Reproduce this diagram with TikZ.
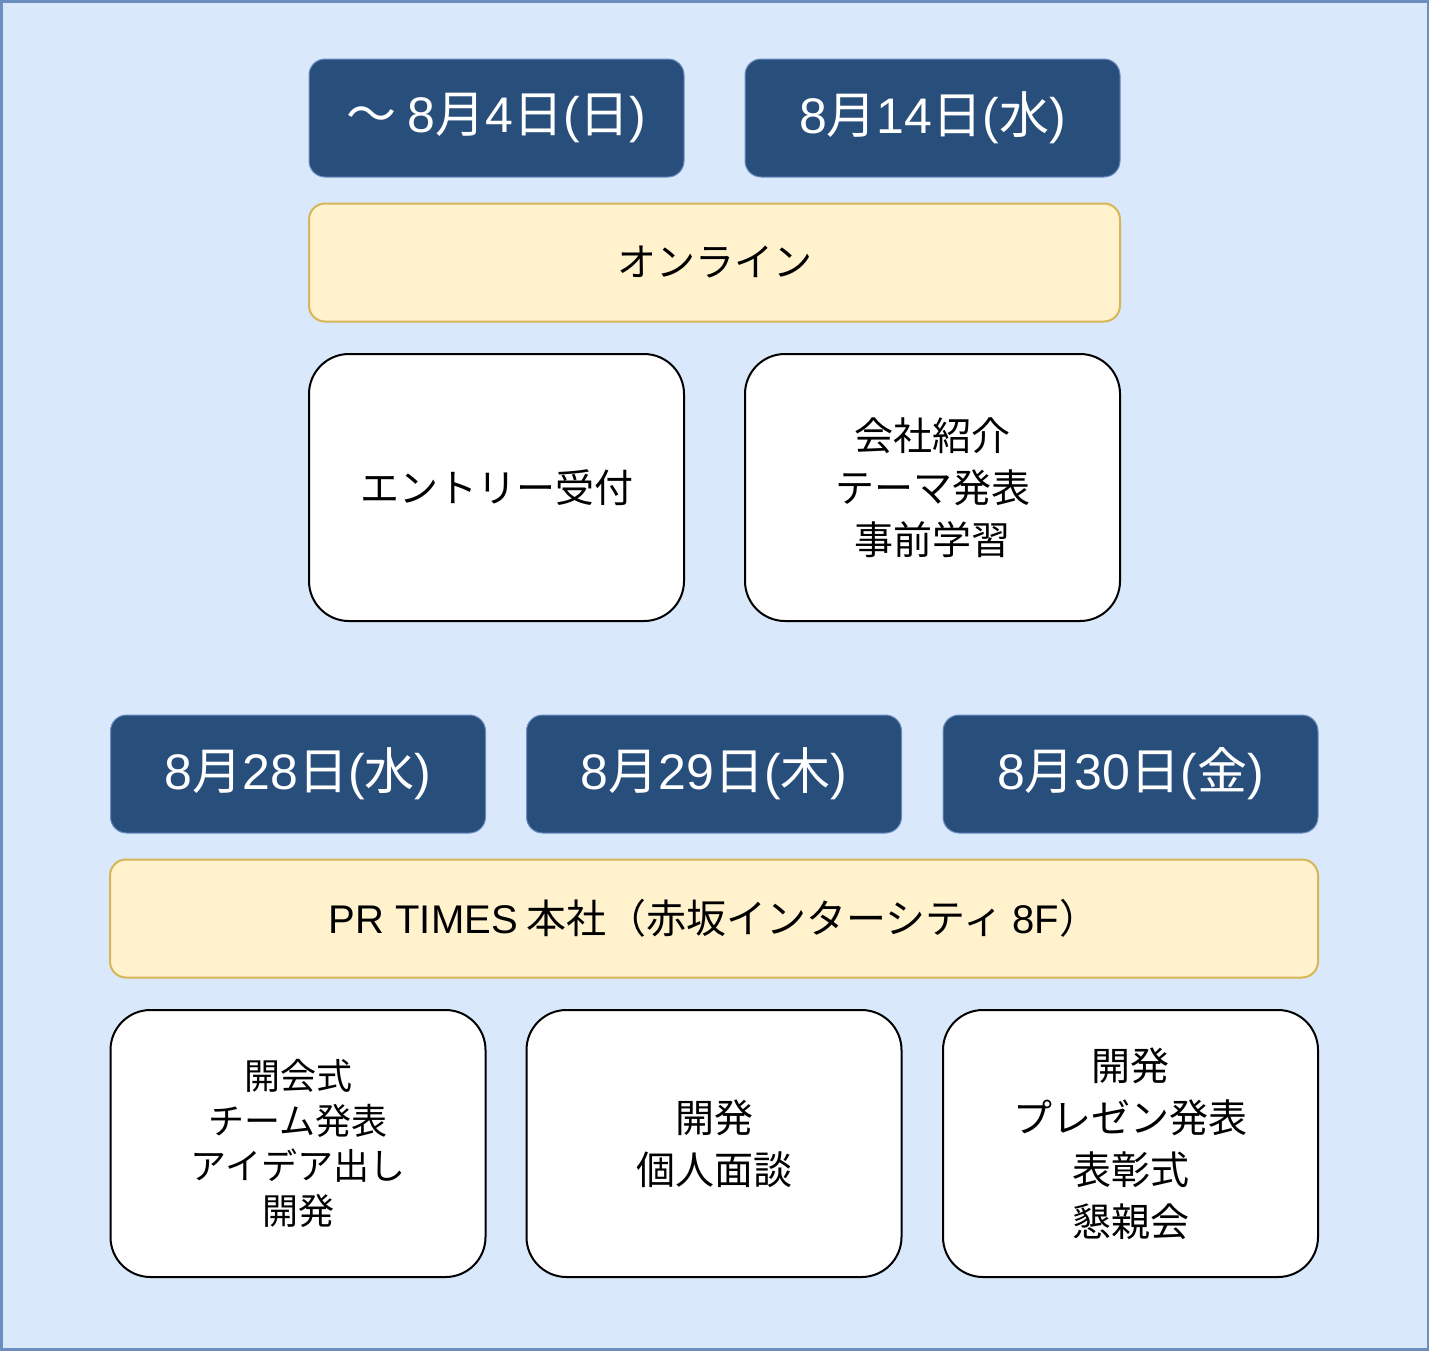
\documentclass[tikz,border=0pt]{standalone}
\usepackage{fontspec}
\setmainfont{Noto Sans CJK JP}
\newfontfamily\lat{Liberation Sans}
\newcommand{\Lt}[1]{{\lat #1}}
\definecolor{bgblue}{HTML}{DAE8FC}
\definecolor{bgline}{HTML}{6C8EBF}
\definecolor{darkbox}{HTML}{284E7B}
\definecolor{yfill}{HTML}{FFF2CC}
\definecolor{yline}{HTML}{D6B656}
\tikzset{
  dark/.style={fill=darkbox, draw=bgline, line width=0.5pt, rounded corners=8pt, text=white,
    font=\fontsize{25}{29}\selectfont, minimum width=187.5pt, minimum height=59pt, inner sep=0pt},
  yel/.style={fill=yfill, draw=yline, line width=1pt, rounded corners=8pt,
    font=\fontsize{19.5}{26}\selectfont, minimum height=59pt, inner sep=0pt},
  wbox/.style={fill=white, draw=black, line width=1pt, rounded corners=20pt, align=center,
    font=\fontsize{19.5}{26}\selectfont, minimum width=187.5pt, minimum height=133.5pt, inner sep=0pt},
}
\begin{document}
\begin{tikzpicture}[x=0.5pt,y=-0.5pt]
\useasboundingbox (0,0) rectangle (1429,1350);
\draw[fill=bgblue, draw=bgline, line width=1.5pt] (1,1) rectangle (1428,1349);
% top section
\node[dark] (d1) at (496.5,118) {〜 \Lt{8}月\Lt{4}日\Lt{(}日\Lt{)}};
\node[dark] (d2) at (932.5,118) {\Lt{8}月\Lt{14}日\Lt{(}水\Lt{)}};
\node[yel, minimum width=405.5pt] (y1) at (714.5,262.5) {オンライン};
\node[wbox] (w1) at (496.5,487.5) {エントリー受付};
\node[wbox] (w2) at (932.5,487.5) {会社紹介\\テーマ発表\\事前学習};
% bottom section
\node[dark] (d3) at (298,774) {\Lt{8}月\Lt{28}日\Lt{(}水\Lt{)}};
\node[dark] (d4) at (714,774) {\Lt{8}月\Lt{29}日\Lt{(}木\Lt{)}};
\node[dark] (d5) at (1130.5,774) {\Lt{8}月\Lt{30}日\Lt{(}金\Lt{)}};
\node[yel, minimum width=604pt, font=\fontsize{20}{26}\selectfont] (y2) at (714,918.5) {\Lt{PR TIMES} 本社（赤坂インターシティ \Lt{8F}）};
\node[wbox, font=\fontsize{18}{22.5}\selectfont] (w3) at (298,1143.5) {開会式\\チーム発表\\アイデア出し\\開発};
\node[wbox] (w4) at (714,1143.5) {開発\\個人面談};
\node[wbox] (w5) at (1130.5,1143.5) {開発\\プレゼン発表\\表彰式\\懇親会};
\end{tikzpicture}
\end{document}
